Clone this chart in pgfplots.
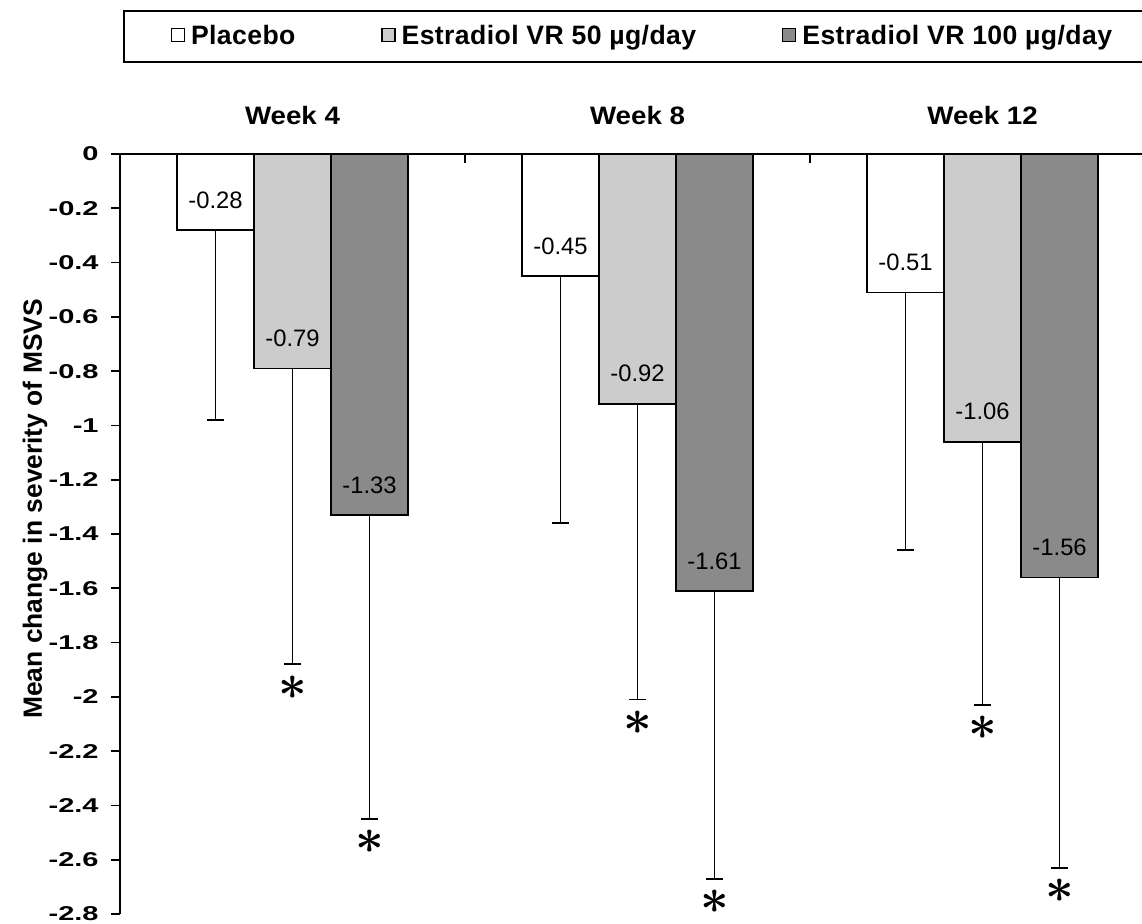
\documentclass[border=0pt]{standalone}
\usepackage{pgfplots}
\pgfplotsset{compat=1.18}
\usepackage{pgfplotstable}
\usepackage{graphicx}
\usepackage{fontspec}
\setmainfont{Liberation Sans}
\newfontfamily\weekfont[FakeStretch=1.1]{Liberation Sans}
\newfontfamily\legfont[LetterSpace=1.5]{Liberation Sans}
\definecolor{lightg}{RGB}{204,204,204}
\definecolor{darkg}{RGB}{138,138,138}
\newcommand\ticklab[1]{\scalebox{1.45}[1]{\bfseries\fontsize{10}{12}\selectfont #1}}

\pgfplotstableread{
x y lo
0 -0.28 -0.98
1 -0.45 -1.36
2 -0.51 -1.46
}\placebo
\pgfplotstableread{
x y lo
0 -0.79 -1.88
1 -0.92 -2.01
2 -1.06 -2.03
}\fifty
\pgfplotstableread{
x y lo
0 -1.33 -2.45
1 -1.61 -2.67
2 -1.56 -2.63
}\hundred

\begin{document}
\begin{tikzpicture}
\begin{axis}[
  name=ax, at={(0,0)}, anchor=south west,
  scale only axis, width=511pt, height=380pt,
  xmin=-0.5, xmax=2.462, ymin=-2.8, ymax=0,
  axis x line*=top, axis y line*=left,
  axis line style={line width=1pt, -},
  xtick={0.5,1.5}, xticklabels={}, xtick align=inside,
  ytick={0,-0.2,-0.4,-0.6,-0.8,-1,-1.2,-1.4,-1.6,-1.8,-2,-2.2,-2.4,-2.6,-2.8},
  yticklabel={\ticklab{\pgfmathprintnumber[assume math mode=true, fixed]{\tick}}},
  ytick align=outside,
  major tick length=4.5pt,
  tick style={line width=0.9pt, black},
  yticklabel style={anchor=east, inner sep=0pt, xshift=-6pt},
  ylabel={Mean change in severity of MSVS},
  ylabel style={at={(axis description cs:-0.0705,0.533)}, anchor=south, inner sep=0pt, rotate=0,
    font=\bfseries\fontsize{13.2}{15}\selectfont},
  clip=false,
  legend columns=3,
  legend style={at={(axis description cs:0.0029,1.1546)}, anchor=west, draw=black, line width=0.9pt,
    inner xsep=23.5pt, inner ysep=7pt, font=\legfont\bfseries\fontsize{13.3}{16}\selectfont,
    nodes={inner sep=0pt},
    /tikz/every even column/.append style={column sep=43pt},
    /tikz/every odd column/.append style={column sep=3pt}},
  legend image code/.code={\draw[#1, line width=0.6pt] (0pt,-2.5pt) rectangle (6.5pt,4pt);},
  every node near coord/.append style={anchor=base, yshift=11pt, inner sep=0pt,
    font=\fontsize{11.9}{14}\selectfont, text=black},
]
\addplot[ybar, bar width=0.2232, bar shift=0pt, fill=white, draw=black, line width=0.8pt,
  point meta=explicit symbolic, nodes near coords,
  error bars/.cd, y dir=minus, y explicit,
  error bar style={line width=0.8pt, black},
  error mark options={black, line width=0.8pt, mark size=4.25pt, rotate=90}]
  table[x expr=\thisrow{x}-0.2232, y=y, meta=y, y error expr=\thisrow{y}-\thisrow{lo}]{\placebo};
\addlegendentry{Placebo}
\addplot[ybar, bar width=0.2232, bar shift=0pt, fill=lightg, draw=black, line width=0.8pt,
  point meta=explicit symbolic, nodes near coords,
  error bars/.cd, y dir=minus, y explicit,
  error bar style={line width=0.8pt, black},
  error mark options={black, line width=0.8pt, mark size=4.25pt, rotate=90}]
  table[x=x, y=y, meta=y, y error expr=\thisrow{y}-\thisrow{lo}]{\fifty};
\addlegendentry{Estradiol VR 50 µg/day}
\addplot[ybar, bar width=0.2232, bar shift=0pt, fill=darkg, draw=black, line width=0.8pt,
  point meta=explicit symbolic, nodes near coords,
  error bars/.cd, y dir=minus, y explicit,
  error bar style={line width=0.8pt, black},
  error mark options={black, line width=0.8pt, mark size=4.25pt, rotate=90}]
  table[x expr=\thisrow{x}+0.2232, y=y, meta=y, y error expr=\thisrow{y}-\thisrow{lo}]{\hundred};
\addlegendentry{Estradiol VR 100 µg/day}
% significance asterisks below the lower error bounds
\addplot[forget plot, draw=none, mark=none, nodes near coords={$\ast$},
  every node near coord/.append style={anchor=center, yshift=-22.5pt, font=\boldmath\fontsize{26}{26}\selectfont}]
  table[x=x, y=lo]{\fifty};
\addplot[forget plot, draw=none, mark=none, nodes near coords={$\ast$},
  every node near coord/.append style={anchor=center, yshift=-22.5pt, font=\boldmath\fontsize{26}{26}\selectfont}]
  table[x expr=\thisrow{x}+0.2232, y=lo]{\hundred};
\node[anchor=base, yshift=15pt, font=\weekfont\bfseries\fontsize{12.6}{15}\selectfont] at (axis cs:0,0) {Week 4};
\node[anchor=base, yshift=15pt, font=\weekfont\bfseries\fontsize{12.6}{15}\selectfont] at (axis cs:1,0) {Week 8};
\node[anchor=base, yshift=15pt, font=\weekfont\bfseries\fontsize{12.6}{15}\selectfont] at (axis cs:2,0) {Week 12};
\end{axis}
\pgfresetboundingbox
\path[use as bounding box] (-60pt,-4.5pt) rectangle (511pt,457pt);
\end{tikzpicture}
\end{document}
